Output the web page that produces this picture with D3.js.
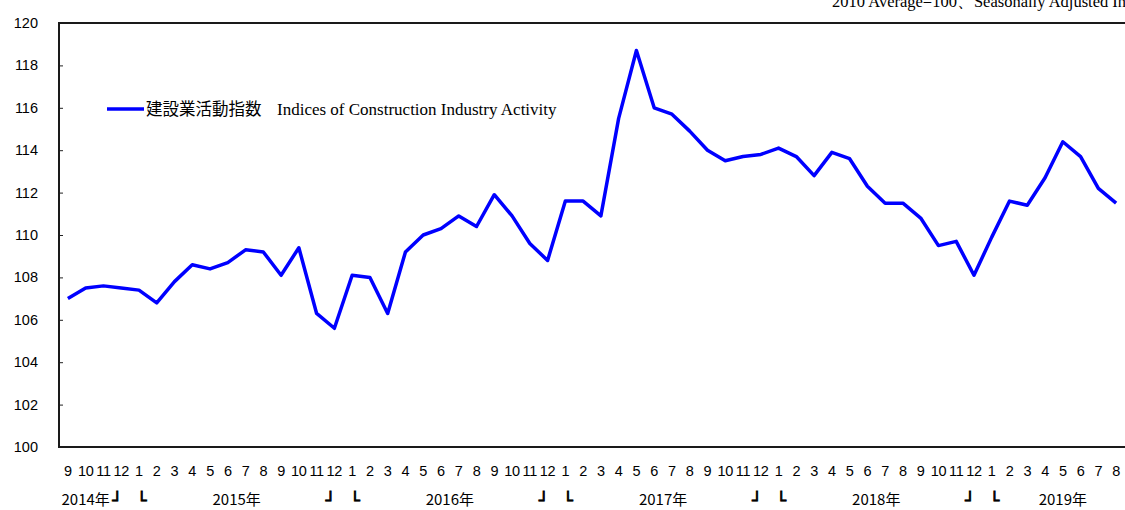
<!DOCTYPE html>
<html>
<head>
<meta charset="utf-8">
<script src="https://cdn.jsdelivr.net/npm/d3@7"></script>
<style>
  body { margin: 0; background: #fff; overflow: hidden; }
  svg { display: block; }
</style>
</head>
<body>
<div id="chart"></div>
<script>
// months Sep 2014 .. Aug 2019
const months = [9, 10, 11, 12,
  1, 2, 3, 4, 5, 6, 7, 8, 9, 10, 11, 12,
  1, 2, 3, 4, 5, 6, 7, 8, 9, 10, 11, 12,
  1, 2, 3, 4, 5, 6, 7, 8, 9, 10, 11, 12,
  1, 2, 3, 4, 5, 6, 7, 8, 9, 10, 11, 12,
  1, 2, 3, 4, 5, 6, 7, 8];
const values = [107.0, 107.5, 107.6, 107.5,
  107.4, 106.8, 107.8, 108.6, 108.4, 108.7, 109.3, 109.2, 108.1, 109.4, 106.3, 105.6,
  108.1, 108.0, 106.3, 109.2, 110.0, 110.3, 110.9, 110.4, 111.9, 110.9, 109.6, 108.8,
  111.6, 111.6, 110.9, 115.5, 118.7, 116.0, 115.7, 114.9, 114.0, 113.5, 113.7, 113.8,
  114.1, 113.7, 112.8, 113.9, 113.6, 112.3, 111.5, 111.5, 110.8, 109.5, 109.7, 108.1,
  109.9, 111.6, 111.4, 112.7, 114.4, 113.7, 112.2, 111.5];
// year label -> index of month it sits on
const yearLabels = [
  { label: "2014年", at: 1, half: false },
  { label: "2015年", at: 9, half: true },
  { label: "2016年", at: 21, half: true },
  { label: "2017年", at: 33, half: true },
  { label: "2018年", at: 45, half: true },
  { label: "2019年", at: 56, half: false }
];
const yTicks = [100, 102, 104, 106, 108, 110, 112, 114, 116, 118, 120];
const seriesNameJa = "建設業活動指数";
const seriesNameEn = "Indices of Construction Industry Activity";
const note = "2010 Average=100、Seasonally Adjusted Index";

const width = 1125, height = 510;
const m = { left: 59, right: 1125, top: 23, bottom: 447 };

const svg = d3.select("#chart").append("svg")
  .attr("width", width).attr("height", height);

const idx = d3.range(values.length);
const x = d3.scaleBand().domain(idx).range([m.left, m.right]);
const cx = i => x(i) + x.bandwidth() / 2;
const y = d3.scaleLinear().domain([100, 120]).range([m.bottom, m.top]);

// y axis with inward ticks
const yAxis = svg.append("g")
  .attr("transform", `translate(${m.left},0)`)
  .call(d3.axisRight(y).tickValues(yTicks).tickSize(4).tickFormat(""));
yAxis.select(".domain").remove();
yAxis.selectAll("line").attr("stroke", "#222").attr("stroke-width", 1);

svg.append("g").selectAll("text")
  .data(yTicks).enter()
  .append("text")
  .attr("x", 38)
  .attr("y", d => y(d))
  .attr("dy", "0.35em")
  .attr("text-anchor", "end")
  .style("font-family", "Liberation Sans, Arial, sans-serif")
  .style("font-size", "14.5px")
  .attr("fill", "#000")
  .text(d => d);

// frame: left, bottom, top
svg.append("path")
  .attr("d", `M${m.right},${m.top}H${m.left}V${m.bottom}H${m.right}`)
  .attr("fill", "none")
  .attr("stroke", "#1a1a1a")
  .attr("stroke-width", 2);

// month labels
svg.append("g").selectAll("text")
  .data(idx).enter()
  .append("text")
  .attr("x", i => cx(i))
  .attr("y", 476)
  .attr("text-anchor", "middle")
  .style("font-family", "Liberation Sans, Arial, sans-serif")
  .style("font-size", "14.5px")
  .style("letter-spacing", "-0.3px")
  .text(i => months[i]);

// year labels
svg.append("g").selectAll("text")
  .data(yearLabels).enter()
  .append("text")
  .attr("x", d => cx(d.at) + (d.half ? x.bandwidth() / 2 : 0))
  .attr("y", 505)
  .attr("text-anchor", "middle")
  .style("font-family", "'Noto Sans CJK JP', sans-serif")
  .style("font-size", "15px")
  .text(d => d.label);

// year boundary brackets between Dec and Jan
const breaks = idx.filter(i => months[i] === 12 && i + 1 < months.length);
const br = svg.append("g")
  .style("font-family", "'DejaVu Sans', sans-serif")
  .style("font-size", "16px")
  .style("font-weight", "bold")
  .attr("stroke", "#000")
  .attr("stroke-width", 0.9);
br.selectAll("text.l").data(breaks).enter()
  .append("text").attr("class", "l")
  .attr("x", i => cx(i) + 1)
  .attr("y", 506)
  .attr("text-anchor", "end")
  .text("┘");
br.selectAll("text.r").data(breaks).enter()
  .append("text").attr("class", "r")
  .attr("x", i => cx(i + 1) - 2)
  .attr("y", 506)
  .attr("text-anchor", "start")
  .text("└");

// series line
const line = d3.line()
  .x(i => cx(i))
  .y(i => y(values[i]));
svg.append("path")
  .datum(idx)
  .attr("d", line)
  .attr("fill", "none")
  .attr("stroke", "#0000ff")
  .attr("stroke-width", 3.5)
  .attr("stroke-linejoin", "round");

// legend
svg.append("line")
  .attr("x1", 107).attr("x2", 144)
  .attr("y1", 109).attr("y2", 109)
  .attr("stroke", "#0000ff").attr("stroke-width", 3.5);
svg.append("text")
  .attr("x", 146).attr("y", 115)
  .style("font-family", "'Noto Sans CJK JP', sans-serif")
  .style("font-size", "16.5px")
  .text(seriesNameJa);
svg.append("text")
  .attr("x", 277).attr("y", 115)
  .style("font-family", "'Liberation Serif', 'Times New Roman', serif")
  .style("font-size", "17px")
  .text(seriesNameEn);

// note at top right (clipped by window, as in the source)
svg.append("text")
  .attr("x", 832).attr("y", 7)
  .style("font-family", "'Liberation Serif', 'Times New Roman', serif")
  .style("font-size", "16.5px")
  .text(note);
</script>
</body>
</html>
